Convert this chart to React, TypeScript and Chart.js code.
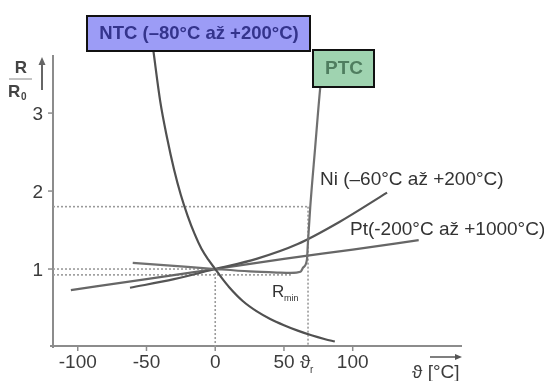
import { useEffect, useRef } from "react";
import { Chart, registerables } from "chart.js";
Chart.register(...registerables);

// NTC thermistor (R/R0 vs temperature °C)
const ntcTemp = [-45, -40, -35, -30, -25, -20, -15, -10, -5, 0, 5, 10, 20, 30, 40, 50, 60, 70, 80, 87];
const ntcRatio = [3.8, 3.15, 2.68, 2.28, 1.95, 1.68, 1.45, 1.26, 1.12, 1.0, 0.88, 0.77, 0.59, 0.46, 0.36, 0.28, 0.21, 0.15, 0.1, 0.07];

// PTC thermistor
const ptcTemp = [-60, -30, 0, 25, 45, 55, 62, 64, 66.7, 67.3, 69.1, 72.7, 76.4, 77.5];
const ptcRatio = [1.08, 1.04, 1.0, 0.97, 0.955, 0.95, 0.965, 1.02, 1.12, 1.3, 1.79, 2.56, 3.33, 3.5];

// Nickel
const niTemp = [-62, -30, 0, 30, 60, 90, 125];
const niRatio = [0.76, 0.87, 1.0, 1.13, 1.32, 1.6, 1.98];

// Platinum
const ptTemp = [-105, -50, 0, 50, 100, 148];
const ptRatio = [0.73, 0.87, 1.0, 1.13, 1.25, 1.37];

const xTickValues = [-100, -50, 0, 50, 100];
const xTickLabels = ["-100", "-50", "0", "50", "100"];
const yTickValues = [1, 2, 3];
const yTickLabels = ["1", "2", "3"];

const xMin = -118;
const xMax = 179.5;
const yMax = 3.745;
const thetaR = 67.5;
const rHigh = 1.8;
const rMinValue = 0.925;
const rMinTemp = 55;

const FONT = '"Liberation Sans", Arial, sans-serif';

const pts = (xs: number[], ys: number[]) => xs.map((x, i) => ({ x, y: ys[i] }));

export default function App() {
  const ref = useRef<HTMLCanvasElement>(null);
  useEffect(() => {
    document.body.style.margin = "0";
    const canvas = ref.current;
    if (!canvas) return;

    const curve = (data: any[], color: string, width: number) => ({
      data,
      borderColor: color,
      borderWidth: width,
      pointRadius: 0,
      showLine: true,
      fill: false,
      cubicInterpolationMode: "monotone",
      clip: false,
    });
    const dotted = (data: any[]) => ({
      data,
      borderColor: "#9a9a9a",
      borderWidth: 1.6,
      borderDash: [2, 2],
      pointRadius: 0,
      showLine: true,
      fill: false,
      tension: 0,
      clip: false,
    });

    const deco = {
      id: "deco",
      beforeDatasetsDraw(chart: any) {
        const { ctx, scales } = chart;
        const x = scales.x, y = scales.y;
        const y0 = y.getPixelForValue(0);
        ctx.save();
        ctx.strokeStyle = "#8c8c8c";
        ctx.lineWidth = 2;
        ctx.beginPath();
        ctx.moveTo(x.left, y0 + 1);
        ctx.lineTo(x.left, y.top);
        ctx.stroke();
        ctx.beginPath();
        ctx.moveTo(x.left - 3, y0 - 1);
        ctx.lineTo(x.right, y0 - 1);
        ctx.stroke();
        ctx.lineWidth = 1.5;
        xTickValues.forEach((v) => {
          const px = x.getPixelForValue(v);
          ctx.beginPath();
          ctx.moveTo(px, y0);
          ctx.lineTo(px, y0 + 4);
          ctx.stroke();
        });
        yTickValues.forEach((v) => {
          const py = y.getPixelForValue(v);
          ctx.beginPath();
          ctx.moveTo(x.left - 5, py);
          ctx.lineTo(x.left, py);
          ctx.stroke();
        });
        ctx.restore();
      },
      afterDraw(chart: any) {
        const { ctx, scales } = chart;
        const x = scales.x, y = scales.y;
        const y0 = y.getPixelForValue(0);
        ctx.save();
        // tick labels
        ctx.fillStyle = "#3c3c3c";
        ctx.font = `19px ${FONT}`;
        ctx.textBaseline = "middle";
        ctx.textAlign = "center";
        xTickValues.forEach((v, i) => {
          ctx.fillText(xTickLabels[i], x.getPixelForValue(v), y0 + 16);
        });
        ctx.textAlign = "right";
        yTickValues.forEach((v, i) => {
          ctx.fillText(yTickLabels[i], x.left - 10, y.getPixelForValue(v) + 2);
        });
        // theta_r label
        ctx.textAlign = "left";
        const trx = x.getPixelForValue(thetaR);
        ctx.fillText("\u03d1", trx - 8, y0 + 16);
        ctx.font = `10px ${FONT}`;
        ctx.fillText("r", trx + 2, y0 + 23);
        // x-axis title
        ctx.font = `19px ${FONT}`;
        ctx.textBaseline = "alphabetic";
        ctx.fillText("\u03d1 [\u00b0C]", 412, 378);
        ctx.strokeStyle = "#555";
        ctx.fillStyle = "#555";
        ctx.lineWidth = 1.5;
        ctx.beginPath();
        ctx.moveTo(430, 357);
        ctx.lineTo(458, 357);
        ctx.stroke();
        ctx.beginPath();
        ctx.moveTo(462, 357);
        ctx.lineTo(455, 354);
        ctx.lineTo(455, 360);
        ctx.closePath();
        ctx.fill();
        // y-axis title R / R0
        ctx.fillStyle = "#444";
        ctx.font = `bold 17px ${FONT}`;
        ctx.textAlign = "center";
        ctx.fillText("R", 21, 73);
        ctx.strokeStyle = "#888";
        ctx.lineWidth = 1;
        ctx.beginPath();
        ctx.moveTo(9, 79);
        ctx.lineTo(32, 79);
        ctx.stroke();
        ctx.textAlign = "left";
        ctx.fillText("R", 8, 97);
        ctx.font = `bold 10px ${FONT}`;
        ctx.fillText("0", 21, 100);
        // y arrow
        ctx.strokeStyle = "#666";
        ctx.fillStyle = "#666";
        ctx.lineWidth = 2;
        ctx.beginPath();
        ctx.moveTo(42, 90);
        ctx.lineTo(42, 64);
        ctx.stroke();
        ctx.beginPath();
        ctx.moveTo(42, 57);
        ctx.lineTo(38.5, 65);
        ctx.lineTo(45.5, 65);
        ctx.closePath();
        ctx.fill();
        // curve labels
        ctx.fillStyle = "#333";
        ctx.font = `19px ${FONT}`;
        ctx.fillText("Ni (\u201360\u00b0C a\u017e +200\u00b0C)", 320, 185);
        ctx.fillText("Pt(-200\u00b0C a\u017e +1000\u00b0C)", 350, 235);
        // R_min
        ctx.font = `17px ${FONT}`;
        ctx.fillText("R", 272, 297);
        ctx.font = `9px ${FONT}`;
        ctx.fillText("min", 284, 301);
        // NTC box
        ctx.fillStyle = "#9c9cf6";
        ctx.fillRect(87, 16, 223, 35);
        ctx.strokeStyle = "#111";
        ctx.lineWidth = 2;
        ctx.strokeRect(87, 16, 223, 35);
        ctx.fillStyle = "#34348c";
        ctx.font = `bold 18.5px ${FONT}`;
        ctx.textAlign = "center";
        ctx.textBaseline = "middle";
        ctx.fillText("NTC (\u201380\u00b0C a\u017e +200\u00b0C)", 199, 34);
        // PTC box
        ctx.fillStyle = "#9fd3b0";
        ctx.fillRect(313, 50, 61, 37);
        ctx.strokeRect(313, 50, 61, 37);
        ctx.fillStyle = "#4f7d5f";
        ctx.font = `bold 19px ${FONT}`;
        ctx.fillText("PTC", 344, 69);
        ctx.restore();
      },
    };

    const chart = new Chart(canvas, {
      type: "scatter",
      data: {
        datasets: [
          curve(pts(ntcTemp, ntcRatio), "#505050", 2.2),
          curve(pts(ptcTemp, ptcRatio), "#707070", 2.2),
          curve(pts(niTemp, niRatio), "#555555", 2.2),
          curve(pts(ptTemp, ptRatio), "#666666", 2.2),
          dotted([{ x: xMin, y: rHigh }, { x: thetaR, y: rHigh }]),
          dotted([{ x: thetaR, y: rHigh }, { x: thetaR, y: 0 }]),
          dotted([{ x: xMin, y: 1 }, { x: 0, y: 1 }]),
          dotted([{ x: 0, y: 1 }, { x: 0, y: 0 }]),
          dotted([{ x: xMin, y: rMinValue }, { x: rMinTemp, y: rMinValue }]),
        ] as any,
      },
      options: {
        animation: false,
        responsive: false,
        devicePixelRatio: 1,
        layout: { padding: { left: 53, right: 82, top: 55, bottom: 34 } },
        scales: {
          x: { type: "linear", min: xMin, max: xMax, display: false },
          y: { type: "linear", min: 0, max: yMax, display: false },
        },
        plugins: { legend: { display: false }, tooltip: { enabled: false } },
      },
      plugins: [deco],
    });
    return () => chart.destroy();
  }, []);
  return <canvas ref={ref} width={544} height={381} style={{ display: "block", width: 544, height: 381 }} />;
}
